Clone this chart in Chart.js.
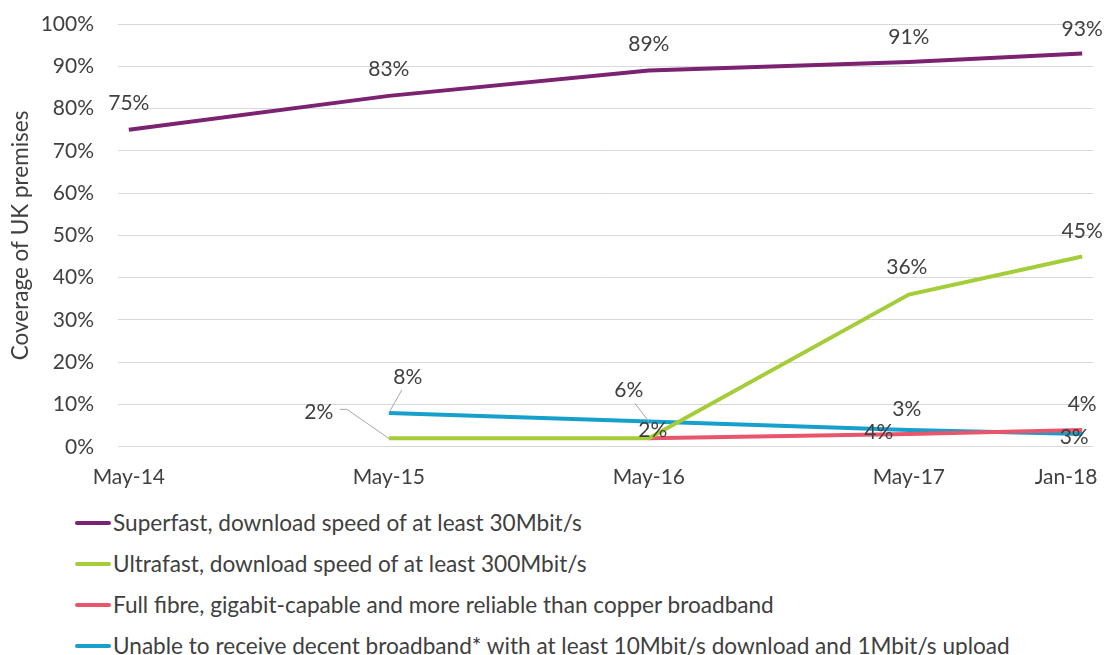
<!DOCTYPE html>
<html>
<head>
<meta charset="utf-8">
<script src="https://cdn.jsdelivr.net/npm/chart.js@4"></script>
<style>
  body { margin: 0; background: #fff; font-family: Lato, "Open Sans", sans-serif; }
  #wrap { width: 1106px; height: 655px; position: relative; overflow: hidden; }
  #legend { position: absolute; left: 75px; top: 502px; color: #404040; font-size: 22.6px; }
  .item { height: 41px; display: flex; align-items: center; }
  .swatch { width: 36px; height: 4px; border-radius: 2px; margin-right: 2px; }
</style>
</head>
<body>
<div id="wrap">
  <canvas id="coverageChart" width="1106" height="500"></canvas>
  <div id="legend"></div>
</div>
<script>
// months after May-14
const monthIndex = [0, 12, 24, 36, 44];
const tickLabels = ['May-14', 'May-15', 'May-16', 'May-17', 'Jan-18'];

const superfast = [75, 83, 89, 91, 93];
const ultrafast = [null, 2, 2, 36, 45];
const fullFibre = [null, null, 2, 3, 4];
const noDecent = [null, 8, 6, 4, 3];

const seriesNames = [
  'Superfast, download speed of at least 30Mbit/s',
  'Ultrafast, download speed of at least 300Mbit/s',
  'Full fibre, gigabit-capable and more reliable than copper broadband',
  'Unable to receive decent broadband* with at least 10Mbit/s download and 1Mbit/s upload'
];
const seriesColors = ['#7b2270', '#a5cd39', '#e8566b', '#16a0cc'];

// label offsets in px from each point: [dx, dy, leader]
const labelOffsets = [
  [[0, -26], [0, -27], [0, -26], [0, -25], [0, -24]],
  [null, [-70, -26, true], null, [-2, -27], [0, -25]],
  [null, null, [4, -8], [-2, -25], [0, -26]],
  [null, [19, -36, true], [-20, -31, true], [-30, 2], [-8, 3]]
];

function toPoints(values) {
  const pts = [];
  values.forEach((v, i) => {
    if (v !== null) pts.push({ x: monthIndex[i], y: v });
  });
  return pts;
}

const allSeries = [superfast, ultrafast, fullFibre, noDecent];

// scales should span the whole chart area, labels may spill into the padding
function noInset(scale) {
  scale.paddingLeft = scale.paddingRight = scale.paddingTop = scale.paddingBottom = 0;
  if (scale._margins) {
    scale._margins.left = scale._margins.right = scale._margins.top = scale._margins.bottom = 0;
  }
}

const dataLabels = {
  id: 'dataLabels',
  afterDatasetsDraw(chart) {
    const ctx = chart.ctx;
    ctx.save();
    ctx.font = '21px Lato, "Open Sans", sans-serif';
    ctx.fillStyle = '#404040';
    ctx.textAlign = 'center';
    ctx.textBaseline = 'middle';
    chart.data.datasets.forEach((ds, di) => {
      const meta = chart.getDatasetMeta(di);
      const offs = labelOffsets[di];
      let k = 0;
      allSeries[di].forEach((v, i) => {
        if (v === null) return;
        const el = meta.data[k++];
        const off = offs[i];
        if (!off) return;
        const lx = el.x + off[0];
        const ly = el.y + off[1];
        if (off[2]) {
          ctx.strokeStyle = '#a6a6a6';
          ctx.lineWidth = 1;
          ctx.beginPath();
          if (off[0] < -40) {
            ctx.moveTo(lx + 21, ly - 3);
            ctx.lineTo(lx + 28, ly - 3);
          } else if (off[0] > 0) {
            ctx.moveTo(lx - 6, ly + 13);
          } else {
            ctx.moveTo(lx + 6, ly + 13);
          }
          ctx.lineTo(el.x, el.y);
          ctx.stroke();
        }
        ctx.fillText(v + '%', lx, ly);
      });
    });
    ctx.restore();
  }
};

const chart = new Chart(document.getElementById('coverageChart'), {
  type: 'line',
  data: {
    datasets: allSeries.map((vals, i) => ({
      label: seriesNames[i],
      data: toPoints(vals),
      borderColor: seriesColors[i],
      backgroundColor: seriesColors[i],
      borderWidth: 4,
      pointRadius: 0,
      tension: 0,
      fill: false
    }))
  },
  options: {
    responsive: false,
    animation: false,
    layout: { autoPadding: false, padding: { top: 24, right: 13, bottom: 0, left: 4 } },
    plugins: {
      legend: { display: false },
      tooltip: { enabled: false }
    },
    scales: {
      x: {
        type: 'linear',
        min: -0.5,
        max: 44.5,
        afterBuildTicks: (axis) => {
          axis.ticks = monthIndex.map(v => ({ value: v }));
        },
        afterFit: noInset,
        ticks: {
          autoSkip: false,
          maxRotation: 0,
          padding: 10,
          color: '#404040',
          font: { family: 'Lato', size: 21 },
          // Jan-18 sits at the edge, pad it so it shifts left like the original
          callback: (v) => {
            const i = monthIndex.indexOf(v);
            return i === monthIndex.length - 1 ? tickLabels[i] + '      ' : tickLabels[i];
          }
        },
        grid: { display: false },
        border: { display: false }
      },
      y: {
        min: 0,
        max: 100,
        afterFit: (scale) => {
          noInset(scale);
          scale.width = 114;
        },
        ticks: {
          stepSize: 10,
          padding: 24,
          color: '#404040',
          font: { family: 'Lato', size: 21 },
          callback: (v) => v + '%'
        },
        grid: { color: '#d9d9d9', lineWidth: 1, drawTicks: false },
        border: { display: false },
        title: {
          display: true,
          text: 'Coverage of UK premises',
          color: '#404040',
          font: { family: 'Lato', size: 22.5 },
          padding: { top: 3, bottom: 2 }
        }
      }
    }
  },
  plugins: [dataLabels]
});

// legend rows
const legendEl = document.getElementById('legend');
seriesNames.forEach((name, i) => {
  const row = document.createElement('div');
  row.className = 'item';
  row.innerHTML = `<span class="swatch" style="background:${seriesColors[i]}"></span><span>${name}</span>`;
  legendEl.appendChild(row);
});
</script>
</body>
</html>
